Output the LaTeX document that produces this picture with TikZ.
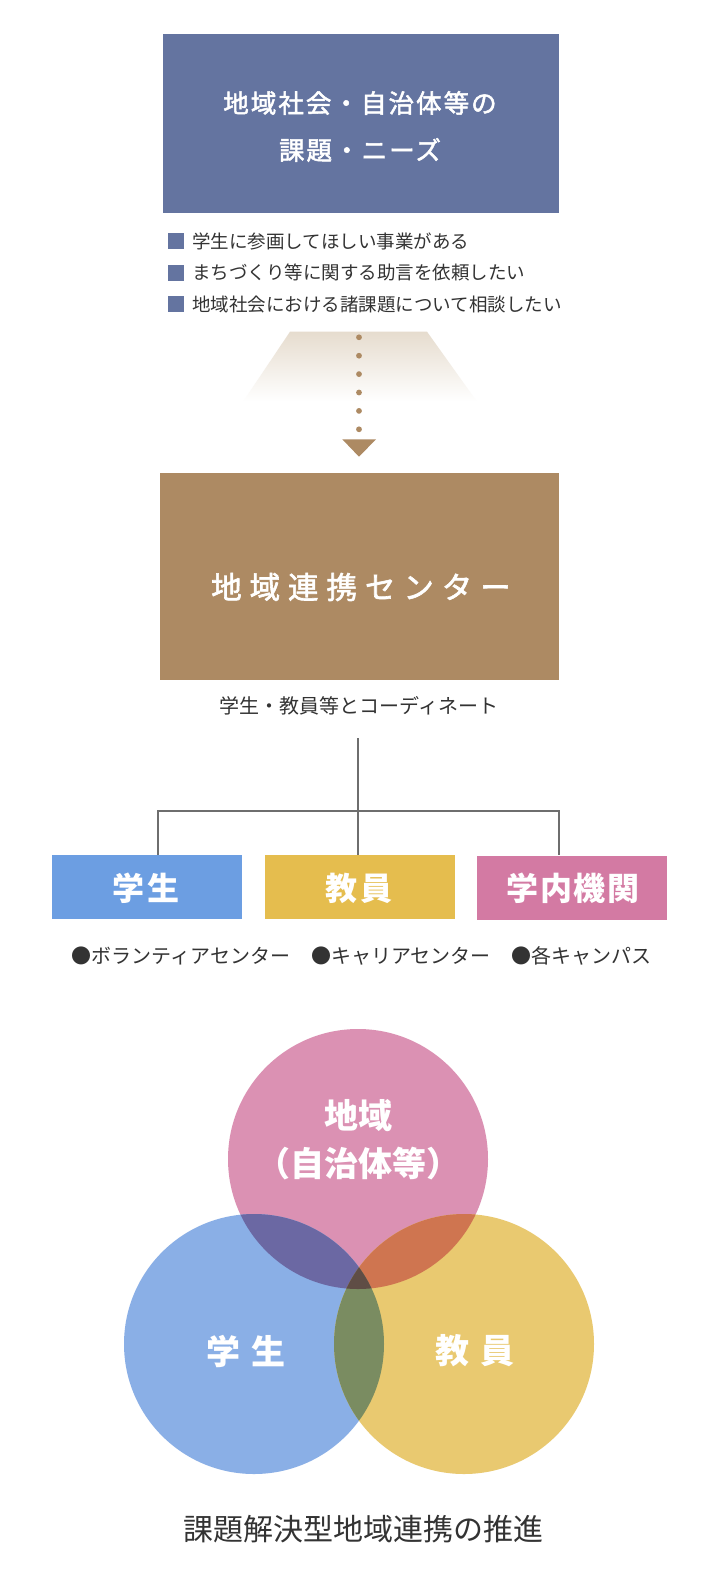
\documentclass[tikz,border=0pt]{standalone}
\usepackage{fontspec}
\setmainfont{Noto Sans CJK JP}
\newfontfamily\jpA[LetterSpace=8,FakeBold=2]{Noto Sans CJK JP}
\newfontfamily\jpB[LetterSpace=26,FakeBold=2]{Noto Sans CJK JP}
\newfontfamily\jpC[LetterSpace=12]{Noto Sans CJK JP}
\newfontfamily\jpD[LetterSpace=5]{Noto Sans CJK JP}
\newfontfamily\jpE[LetterSpace=34]{Noto Sans CJK JP}
\usetikzlibrary{arrows.meta}
\definecolor{needs}{HTML}{6474A0}
\definecolor{brownbox}{HTML}{AD8A63}
\definecolor{txt}{HTML}{333333}
\definecolor{lineg}{HTML}{6E6E6E}
\definecolor{studb}{HTML}{6C9EE2}
\definecolor{facy}{HTML}{E5BD4E}
\definecolor{instp}{HTML}{D37AA3}
\definecolor{vpink}{HTML}{DB91B3}
\definecolor{vblue}{HTML}{8AAFE6}
\definecolor{vyel}{HTML}{E9C970}
\definecolor{vpb}{HTML}{6B68A3}
\definecolor{vpy}{HTML}{CF7550}
\definecolor{vby}{HTML}{7A8C61}
\definecolor{vall}{HTML}{5F4D45}
\definecolor{trap}{HTML}{E6DCCE}
\begin{document}
\begin{tikzpicture}[x=1pt,y=-1pt,
  panel/.style={rectangle, inner sep=0pt, draw=none},
  wlabel/.style={text=white, inner sep=0pt},
  listtxt/.style={anchor=west, text=txt, inner sep=0pt, font=\fontsize{18.5}{22}\selectfont},
  sq/.style={rectangle, fill=needs, minimum width=16pt, minimum height=16pt, inner sep=0pt},
  conn/.style={draw=lineg, line width=1.3pt},
  dtxt/.style={text=txt, inner sep=0pt},
  vcirc/.style={circle, minimum size=260pt, inner sep=0pt, draw=none}
]
\useasboundingbox[fill=white] (0,0) rectangle (720,1582);

% top box
\node[panel, fill=needs, minimum width=396pt, minimum height=179pt] (needs) at (361,123.5) {};
\node[wlabel, font=\jpA\fontsize{25.5}{30}\selectfont] (needsA) at (360,103) {地域社会・自治体等の};
\node[wlabel, font=\jpA\fontsize{25.5}{30}\selectfont] (needsB) at (360,150) {課題・ニーズ};

% list
\node[sq] (sq1) at (176,241) {};
\node[sq] (sq2) at (176,272.5) {};
\node[sq] (sq3) at (176,304) {};
\node[listtxt] (l1) at (192,241) {学生に参画してほしい事業がある};
\node[listtxt] (l2) at (192,272.5) {まちづくり等に関する助言を依頼したい};
\node[listtxt] (l3) at (192,304) {地域社会における諸課題について相談したい};

% gradient trapezoid
\shade[top color=trap, bottom color=white] (290,331.7) -- (427,331.7) -- (477,401.7) -- (243,401.7) -- cycle;

% dotted arrow
\coordinate (flowtop) at (359,337.3);
\coordinate (flowend) at (359,430);
\coordinate (tipL) at (342.3,439.3);
\coordinate (tipR) at (376,439.3);
\coordinate (tip) at (359,456.7);
\draw[brownbox, line width=5.8pt, line cap=round, dash pattern=on 0pt off 18.4pt] (flowtop) -- (flowend);
\fill[brownbox] (tipL) -- (tipR) -- (tip) -- cycle;

% center box
\node[panel, fill=brownbox, minimum width=399pt, minimum height=207pt] (center) at (359.5,576.5) {};
\node[wlabel, font=\jpB\fontsize{30.5}{34}\selectfont] (centerT) at (361,587) {地域連携センター};
\node[dtxt, font=\fontsize{20}{24}\selectfont] (coord) at (359,706) {学生・教員等とコーディネート};

% boxes
\node[panel, fill=studb, minimum width=190pt, minimum height=64pt] (student) at (147,887) {};
\node[panel, fill=facy, minimum width=190pt, minimum height=64pt] (teacher) at (359.5,887) {};
\node[panel, fill=instp, minimum width=190pt, minimum height=64pt] (inst) at (572,887.5) {};
\node[wlabel, font=\jpC\bfseries\fontsize{32}{36}\selectfont] (studentT) at (146,888) {学生};
\node[wlabel, font=\jpC\bfseries\fontsize{32}{36}\selectfont] (teacherT) at (359,888) {教員};
\node[wlabel, font=\jpD\bfseries\fontsize{32}{36}\selectfont] (instT) at (573,888.5) {学内機関};

% tree connectors
\coordinate (treetop) at (358,738);
\coordinate (jL) at (158,811);
\coordinate (jR) at (559,811);
\draw[conn] (treetop) -- (treetop |- teacher.north);
\draw[conn] (jL |- student.north) -- (jL) -- (jR) -- (jR |- inst.north);

% bullet labels
\node[dtxt, font=\fontsize{20}{24}\selectfont] (b1) at (181,956) {●ボランティアセンター};
\node[dtxt, font=\fontsize{20}{24}\selectfont] (b2) at (401,956) {●キャリアセンター};
\node[dtxt, font=\fontsize{20}{24}\selectfont] (b3) at (581,956) {●各キャンパス};

% venn
\coordinate (cP) at (358,1159);
\coordinate (cB) at (254,1344);
\coordinate (cY) at (464,1344);
\node[vcirc, fill=vpink] (region) at (cP) {};
\node[vcirc, fill=vblue] (students) at (cB) {};
\node[vcirc, fill=vyel] (faculty) at (cY) {};
\begin{scope}
  \clip (cP) circle[radius=130pt];
  \fill[vpb] (cB) circle[radius=130pt];
\end{scope}
\begin{scope}
  \clip (cP) circle[radius=130pt];
  \fill[vpy] (cY) circle[radius=130pt];
\end{scope}
\begin{scope}
  \clip (cB) circle[radius=130pt];
  \fill[vby] (cY) circle[radius=130pt];
\end{scope}
\begin{scope}
  \clip (cP) circle[radius=130pt];
  \clip (cB) circle[radius=130pt];
  \fill[vall] (cY) circle[radius=130pt];
\end{scope}
\node[wlabel, font=\bfseries\fontsize{34}{38}\selectfont] (regionT1) at (358,1116) {地域};
\node[wlabel, font=\bfseries\fontsize{34}{38}\selectfont] (regionT2) at (358,1164) {（自治体等）};
\node[wlabel, font=\jpE\bfseries\fontsize{34}{38}\selectfont] (studentsT) at (246,1351) {学生};
\node[wlabel, font=\jpE\bfseries\fontsize{34}{38}\selectfont] (facultyT) at (475,1351) {教員};

% caption
\node[dtxt, font=\fontsize{30}{34}\selectfont] (caption) at (363,1529) {課題解決型地域連携の推進};
\end{tikzpicture}
\end{document}
